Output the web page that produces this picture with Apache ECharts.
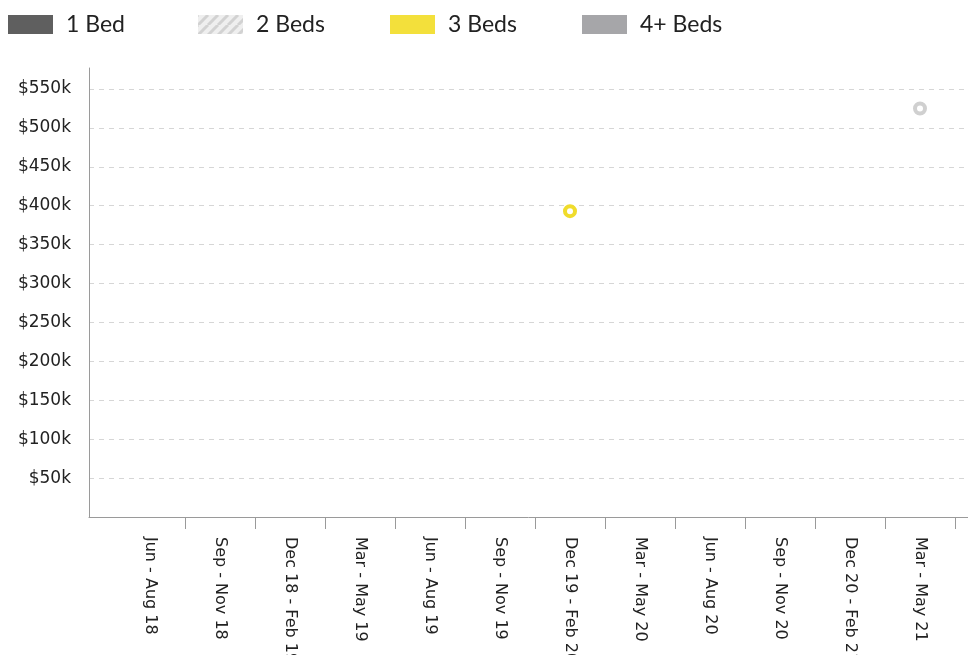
<!DOCTYPE html>
<html>
<head>
<meta charset="utf-8">
<script src="https://cdn.jsdelivr.net/npm/echarts@6/dist/echarts.min.js"></script>
<style>
html, body { margin: 0; padding: 0; background: #fff; }
#chart { width: 968px; height: 655px; }
</style>
</head>
<body>
<div id="chart"></div>
<script>
const categories = [
  'Jun - Aug 18', 'Sep - Nov 18', 'Dec 18 - Feb 19', 'Mar - May 19',
  'Jun - Aug 19', 'Sep - Nov 19', 'Dec 19 - Feb 20', 'Mar - May 20',
  'Jun - Aug 20', 'Sep - Nov 20', 'Dec 20 - Feb 21', 'Mar - May 21'
]
const oneBed = [null, null, null, null, null, null, null, null, null, null, null, null]
const twoBeds = [null, null, null, null, null, null, null, null, null, null, null, 525000]
const threeBeds = [null, null, null, null, null, null, 393000, null, null, null, null, null]
const fourPlusBeds = [null, null, null, null, null, null, null, null, null, null, null, null]

const legendNames = ['1 Bed', '2 Beds', '3 Beds', '4+ Beds']
const legendLeft = [3, 193, 385, 577]

const axisGrey = '#9a9a9a'
const fontAxis = '"DejaVu Sans", sans-serif'
const fontLegend = 'Lato, sans-serif'

// hatched swatch for 2 Beds
function hatch() {
  const c = document.createElement('canvas')
  c.width = 10
  c.height = 10
  const ctx = c.getContext('2d')
  ctx.fillStyle = '#efefef'
  ctx.fillRect(0, 0, 10, 10)
  ctx.strokeStyle = '#d2d2d2'
  ctx.lineWidth = 3
  ctx.beginPath()
  for (let k = -10; k <= 20; k += 10) {
    ctx.moveTo(k, 10)
    ctx.lineTo(k + 10, 0)
  }
  ctx.stroke()
  return { image: c, repeat: 'repeat' }
}

const colors = {
  '1 Bed': '#5f5f5f',
  '2 Beds': '#d0d0d0',
  '3 Beds': '#f0dc2c',
  '4+ Beds': '#a6a6a9'
}
const swatch = {
  '1 Bed': '#5f5f5f',
  '2 Beds': hatch(),
  '3 Beds': '#f3e03b',
  '4+ Beds': '#a6a6a9'
}

function ringSeries(name, data) {
  return {
    name: name,
    type: 'scatter',
    xAxisIndex: 2,
    yAxisIndex: 2,
    data: data,
    symbol: 'circle',
    symbolSize: 10,
    color: colors[name],
    itemStyle: { color: '#fff', borderColor: colors[name], borderWidth: 4, opacity: 1 }
  }
}

const chart = echarts.init(document.getElementById('chart'))
chart.setOption({
  animation: false,
  legend: legendNames.map((name, i) => ({
    left: legendLeft[i],
    top: 8,
    itemWidth: 45,
    itemHeight: 19,
    icon: 'rect',
    selectedMode: false,
    data: [{ name: name, itemStyle: { color: swatch[name], borderWidth: 0 } }],
    textStyle: { fontFamily: fontLegend, fontSize: 23, color: '#222', padding: [0, 0, 0, 8] }
  })),
  grid: [
    { left: 89, right: 0, top: 68, bottom: 138, outerBoundsMode: 'none' },
    { left: 89, right: 0, top: 89, bottom: 138, outerBoundsMode: 'none' },
    { left: 115, right: 13, top: 89, bottom: 138, outerBoundsMode: 'none' }
  ],
  xAxis: [
    {
      gridIndex: 0, type: 'value', min: 0, max: 1, z: 5,
      axisLine: { show: true, lineStyle: { color: axisGrey, width: 1 } },
      axisTick: { show: false }, axisLabel: { show: false }, splitLine: { show: false }
    },
    {
      gridIndex: 1, type: 'value', min: 0, max: 1, show: false
    },
    {
      gridIndex: 2, type: 'category', data: categories, boundaryGap: true,
      axisLine: { show: false },
      axisTick: {
        show: true, inside: false, length: 12,
        interval: (idx) => idx > 0,
        lineStyle: { color: axisGrey }
      },
      axisLabel: {
        interval: 0, rotate: -90, margin: 20,
        fontFamily: fontAxis, fontSize: 16, color: '#222'
      },
      splitLine: { show: false }
    }
  ],
  yAxis: [
    {
      gridIndex: 0, type: 'value', min: 0, max: 1,
      axisLine: { show: true, lineStyle: { color: axisGrey, width: 1 } },
      axisTick: { show: false }, axisLabel: { show: false }, splitLine: { show: false }
    },
    {
      gridIndex: 1, type: 'value', min: 0, max: 550000, interval: 50000,
      axisLine: { show: false }, axisTick: { show: false },
      axisLabel: {
        margin: 18, fontFamily: fontAxis, fontSize: 17, color: '#222',
        formatter: (v) => v === 0 ? '' : '$' + (v / 1000) + 'k'
      },
      splitLine: {
        show: true, showMinLine: false,
        lineStyle: { color: '#d6d6d6', type: [5, 5], width: 1 }
      }
    },
    {
      gridIndex: 2, type: 'value', min: 0, max: 550000, show: false
    }
  ],
  series: [
    ringSeries('1 Bed', oneBed),
    ringSeries('2 Beds', twoBeds),
    ringSeries('3 Beds', threeBeds),
    ringSeries('4+ Beds', fourPlusBeds)
  ]
})
</script>
</body>
</html>
